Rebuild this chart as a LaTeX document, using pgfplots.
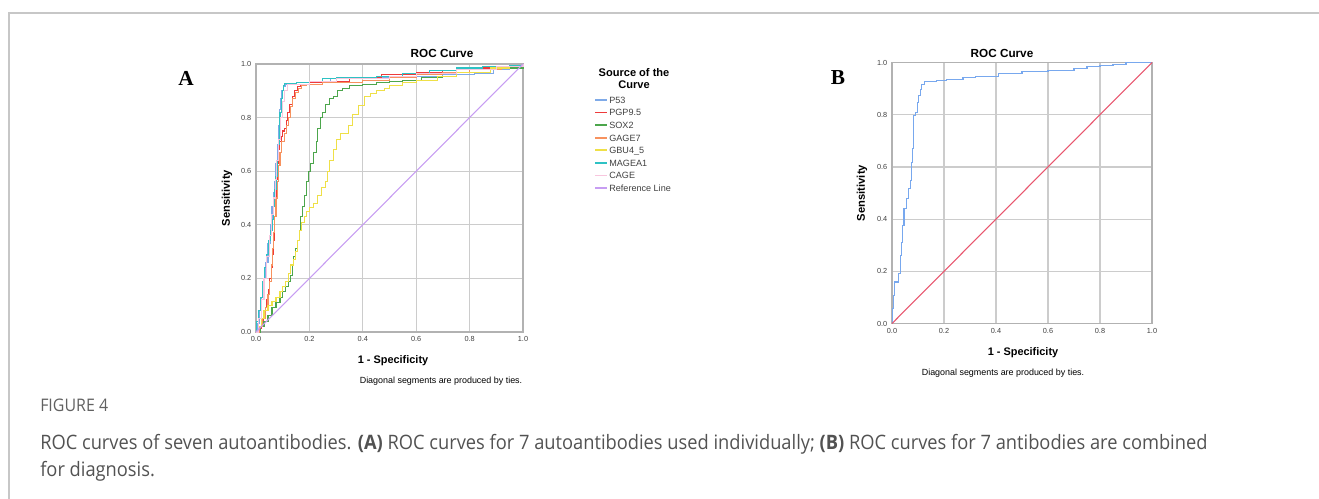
\documentclass[border=0pt]{standalone}
\usepackage{fontspec}
\setmainfont{Liberation Sans}
\newfontfamily\capfont[FakeStretch=0.92]{Open Sans}
\newfontfamily\letterfont{Liberation Serif}
\usepackage{pgfplots}
\pgfplotsset{compat=1.18}

\definecolor{cP53}{HTML}{7FAAE8}
\definecolor{cPGP}{HTML}{EE3B3B}
\definecolor{cSOX}{HTML}{4CA64C}
\definecolor{cGAGE}{HTML}{F7925E}
\definecolor{cGBU}{HTML}{EFE047}
\definecolor{cMAGE}{HTML}{2EC2C4}
\definecolor{cCAGE}{HTML}{F8C6DE}
\definecolor{cRef}{HTML}{C79DF2}
\definecolor{cRefB}{HTML}{E8566E}
\definecolor{cB}{HTML}{78A8EE}

\pgfplotsset{
  rocaxis/.style={
    scale only axis,
    xmin=0, xmax=1, ymin=0, ymax=1,
    xtick={0,0.2,0.4,0.6,0.8,1},
    ytick={0,0.2,0.4,0.6,0.8,1},
    grid=major,
    major grid style={black!20, line width=0.9pt},
    axis line style={black!30, line width=0.8pt},
    major tick length=0pt,
    tick label style={font=\fontsize{5.5}{6}\selectfont, text=black!75},
    /pgf/number format/fixed,
    /pgf/number format/fixed zerofill,
    /pgf/number format/precision=1,
    /pgf/number format/assume math mode=true,
    clip=false,
  },
  roc/.style={line width=0.8pt, const plot},
}

\begin{document}
\begin{tikzpicture}[x=0.75pt, y=-0.75pt]
\useasboundingbox (0,0) rectangle (1319,499);
\draw[black!22, line width=1.1pt] (9,499) -- (9,13) -- (1319,13);

% ---- panel A
\node[font=\letterfont\bfseries\fontsize{16}{16}\selectfont] at (186,78) {A};
\begin{axis}[rocaxis, at={(192pt,-249pt)}, anchor=south west,
  width=200.25pt, height=201pt,
  legend style={at={(1.266,0.885)}, anchor=north west, draw=none, fill=none,
    font=\fontsize{6.8}{7.5}\selectfont, text=black!75, row sep=0.75pt,
    inner sep=0pt, nodes={inner sep=1pt, text height=5.2pt, text depth=1.5pt}},
  legend cell align=left,
  legend image code/.code={\draw[#1, line width=1.3pt, const plot=false] (0pt,0.75pt) -- (9pt,0.75pt);},
]
\addplot[roc, cP53] coordinates {
(0,0) (0.005,0.03) (0.012,0.08) (0.02,0.13) (0.027,0.2) (0.035,0.26) (0.045,0.33)
(0.053,0.4) (0.06,0.47) (0.064,0.52) (0.07,0.56) (0.075,0.63) (0.08,0.7) (0.085,0.77)
(0.089,0.83) (0.093,0.87) (0.097,0.9) (0.103,0.915) (0.11,0.925) (0.2,0.93) (0.28,0.945)
(0.4,0.95) (0.55,0.955) (0.7,0.96) (0.82,0.965) (0.89,0.98) (0.95,0.99) (1,1)};
\addlegendentry{P53}
\addplot[roc, cPGP] coordinates {
(0,0) (0.01,0.015) (0.02,0.03) (0.028,0.06) (0.034,0.09) (0.04,0.12) (0.046,0.16)
(0.052,0.2) (0.058,0.24) (0.062,0.29) (0.065,0.34) (0.068,0.39) (0.071,0.43) (0.074,0.5)
(0.077,0.57) (0.08,0.63) (0.083,0.68) (0.087,0.71) (0.094,0.73) (0.1,0.75) (0.108,0.76)
(0.113,0.79) (0.118,0.82) (0.126,0.85) (0.135,0.88) (0.145,0.9) (0.155,0.915) (0.165,0.925)
(0.2,0.93) (0.3,0.935) (0.35,0.945) (0.4,0.95) (0.47,0.96) (0.6,0.97) (0.7,0.975)
(0.75,0.985) (0.9,0.99) (1,1)};
\addlegendentry{PGP9.5}
\addplot[roc, cSOX] coordinates {
(0,0) (0.015,0.02) (0.03,0.04) (0.045,0.06) (0.06,0.09) (0.075,0.11) (0.09,0.13) (0.1,0.15)
(0.11,0.17) (0.12,0.19) (0.13,0.21) (0.135,0.25) (0.14,0.28) (0.148,0.31) (0.155,0.34)
(0.162,0.38) (0.168,0.43) (0.175,0.47) (0.183,0.51) (0.19,0.56) (0.198,0.6) (0.205,0.63)
(0.215,0.67) (0.225,0.71) (0.232,0.76) (0.24,0.8) (0.25,0.82) (0.26,0.85) (0.275,0.87)
(0.29,0.88) (0.305,0.9) (0.325,0.91) (0.35,0.92) (0.4,0.925) (0.45,0.93) (0.5,0.935)
(0.55,0.94) (0.62,0.95) (0.7,0.955) (0.75,0.97) (0.88,0.985) (1,1)};
\addlegendentry{SOX2}
\addplot[roc, cGAGE] coordinates {
(0,0) (0.012,0.02) (0.025,0.05) (0.035,0.09) (0.045,0.14) (0.052,0.19) (0.058,0.25)
(0.063,0.31) (0.067,0.37) (0.071,0.43) (0.075,0.5) (0.079,0.56) (0.084,0.62) (0.09,0.67)
(0.097,0.71) (0.105,0.74) (0.113,0.77) (0.12,0.8) (0.128,0.84) (0.137,0.87) (0.148,0.895)
(0.16,0.91) (0.172,0.92) (0.19,0.925) (0.25,0.93) (0.4,0.94) (0.5,0.95) (0.6,0.96)
(0.7,0.97) (0.8,0.98) (0.92,0.99) (1,1)};
\addlegendentry{GAGE7}
\addplot[roc, cGBU] coordinates {
(0,0) (0.01,0.02) (0.02,0.05) (0.03,0.08) (0.045,0.1) (0.06,0.115) (0.075,0.13) (0.09,0.15)
(0.1,0.17) (0.11,0.19) (0.12,0.22) (0.13,0.25) (0.14,0.27) (0.148,0.3) (0.155,0.34)
(0.162,0.38) (0.17,0.41) (0.18,0.43) (0.19,0.45) (0.2,0.465) (0.215,0.48) (0.23,0.51)
(0.245,0.54) (0.26,0.56) (0.268,0.6) (0.275,0.64) (0.29,0.68) (0.3,0.72) (0.315,0.74)
(0.345,0.77) (0.36,0.81) (0.385,0.845) (0.405,0.88) (0.43,0.89) (0.45,0.9) (0.48,0.91)
(0.5,0.92) (0.55,0.93) (0.6,0.94) (0.68,0.955) (0.75,0.97) (0.88,0.985) (0.95,0.99) (1,1)};
\addlegendentry{GBU4\_5}
\addplot[roc, cMAGE] coordinates {
(0,0) (0.003,0.04) (0.01,0.08) (0.018,0.13) (0.025,0.19) (0.032,0.24) (0.04,0.29)
(0.048,0.34) (0.055,0.38) (0.062,0.42) (0.067,0.47) (0.071,0.53) (0.075,0.58) (0.079,0.64)
(0.083,0.7) (0.087,0.77) (0.09,0.82) (0.094,0.87) (0.098,0.9) (0.104,0.92) (0.108,0.927)
(0.15,0.93) (0.2,0.935) (0.25,0.945) (0.3,0.95) (0.45,0.955) (0.55,0.965) (0.65,0.975)
(0.75,0.985) (0.85,0.99) (0.95,0.995) (1,1)};
\addlegendentry{MAGEA1}
\addplot[roc, cCAGE] coordinates {
(0,0) (0.008,0.05) (0.02,0.12) (0.03,0.2) (0.04,0.28) (0.05,0.36) (0.058,0.44) (0.065,0.5)
(0.072,0.57) (0.078,0.64) (0.085,0.72) (0.092,0.8) (0.1,0.86) (0.108,0.9) (0.118,0.925)
(0.2,0.935) (0.3,0.945) (0.5,0.955) (0.6,0.965) (0.75,0.98) (0.9,0.99) (1,1)};
\addlegendentry{CAGE}
\addplot[line width=0.8pt, cRef] coordinates {(0,0) (1,1)};
\addlegendentry{Reference Line}
\end{axis}
\node[font=\bfseries\fontsize{8.8}{9}\selectfont] at (442,53) {ROC Curve};
\node[font=\bfseries\fontsize{8.3}{9}\selectfont, align=center] at (634,79) {Source of the\\Curve};
\node[font=\bfseries\fontsize{8.4}{9}\selectfont, rotate=90] at (227,198) {Sensitivity};
\node[font=\bfseries\fontsize{8.2}{9}\selectfont] at (393,361) {1 - Specificity};
\node[font=\fontsize{6.7}{7}\selectfont] at (441,381) {Diagonal segments are produced by ties.};

% ---- panel B
\node[font=\letterfont\bfseries\fontsize{16}{16}\selectfont] at (838,78) {B};
\begin{axis}[rocaxis, at={(669pt,-242.625pt)}, anchor=south west,
  width=195pt, height=195.75pt]
\addplot[roc, cB] coordinates {
(0,0) (0.003,0.057) (0.005,0.108) (0.011,0.159) (0.024,0.191) (0.031,0.21) (0.034,0.261)
(0.037,0.312) (0.041,0.376) (0.046,0.44) (0.056,0.478) (0.065,0.516) (0.071,0.548)
(0.075,0.618) (0.079,0.669) (0.082,0.732) (0.084,0.796) (0.09,0.809) (0.097,0.847)
(0.103,0.873) (0.11,0.898) (0.115,0.917) (0.126,0.926) (0.171,0.93) (0.209,0.934)
(0.235,0.936) (0.273,0.943) (0.32,0.946) (0.38,0.948) (0.41,0.958) (0.5,0.964)
(0.6,0.971) (0.7,0.976) (0.75,0.983) (0.8,0.99) (0.85,0.994) (0.9,1) (1,1)};
\addplot[line width=0.8pt, cRefB] coordinates {(0,0) (1,1)};
\end{axis}
\node[font=\bfseries\fontsize{8.8}{9}\selectfont] at (1002,53) {ROC Curve};
\node[font=\bfseries\fontsize{8.4}{9}\selectfont, rotate=90] at (862,193) {Sensitivity};
\node[font=\bfseries\fontsize{8.2}{9}\selectfont] at (1023,353) {1 - Specificity};
\node[font=\fontsize{6.7}{7}\selectfont] at (1003,373) {Diagonal segments are produced by ties.};

% ---- caption
\node[anchor=base west, inner sep=0pt, font=\capfont\fontsize{13}{14}\selectfont, text=black!62] at (40,411) {FIGURE 4};
\node[anchor=base west, inner sep=0pt, font=\capfont\fontsize{14.9}{16}\selectfont, text=black!68] at (40,449)
  {ROC curves of seven autoantibodies. \textbf{(A)} ROC curves for 7 autoantibodies used individually; \textbf{(B)} ROC curves for 7 antibodies are combined};
\node[anchor=base west, inner sep=0pt, font=\capfont\fontsize{14.9}{16}\selectfont, text=black!68] at (40,476)
  {for diagnosis.};
\end{tikzpicture}
\end{document}
